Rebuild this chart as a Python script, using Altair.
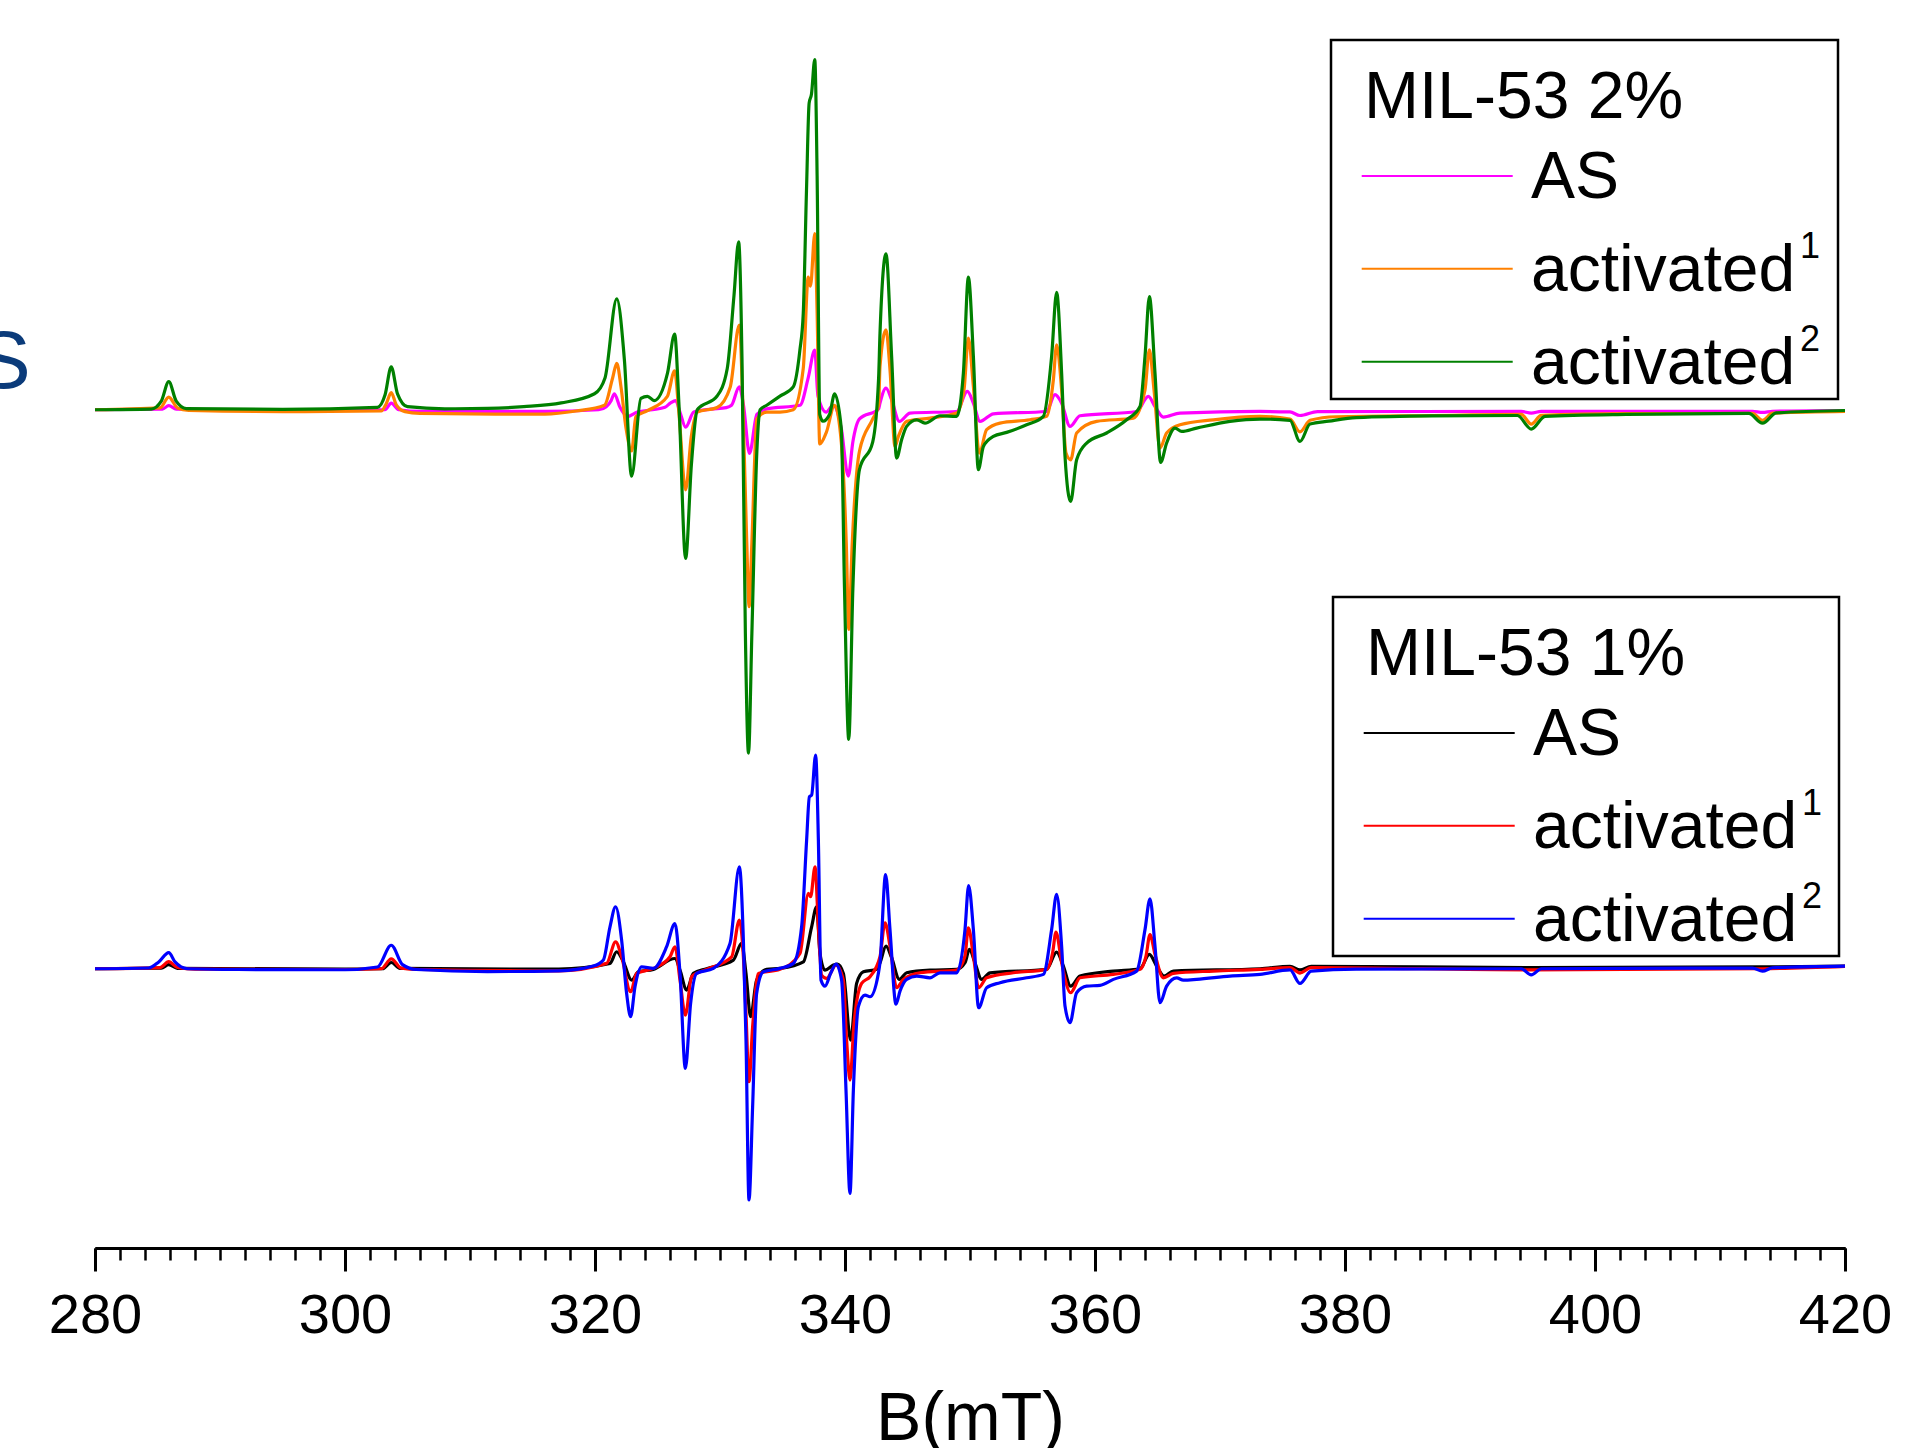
import altair as alt
import pandas as pd

FONT = "Liberation Sans"

# ---------------- data: (B in mT, derivative intensity in a.u.) ----------------
# MIL-53 2 %
MIL2_AS = [
    (280.0, 0), (285.4, 0.5), (285.9, 3.4), (286.5, 0.5), (295.0, -0.5), (303.2, 0), (303.7, 5.4),
    (304.3, 0), (306.0, -1.4), (316.0, -1.4), (320.3, 0), (320.9, 2.5), (321.29, 7.5), (321.55, 13.1),
    (322.0, 2), (322.6, -5.6), (323.39, -1.9), (324.6, 0), (325.6, 2), (326.05, 5.6), (326.45, 7.5),
    (326.8, -2), (327.25, -14.2), (327.9, -1.9), (329.3, 0.5), (330.5, 1.8), (330.92, 3.7),
    (331.54, 18.7), (331.88, 3.7), (332.36, -35.6), (332.95, -3.7), (333.74, 0.7), (336.4, 3.7),
    (337.06, 26.2), (337.58, 48.7), (337.84, 11.2), (338.5, -1.9), (339.04, 3.7), (339.70, -15),
    (340.26, -54.3), (340.63, -26.2), (341.16, -7.5), (342.69, 0.7), (342.8, 5.4), (343.28, 17.7),
    (343.73, 8.2), (344.35, -9.5), (345.2, -2.7), (348.93, -1.4), (349.79, 15), (350.27, 5.4),
    (350.8, -9.5), (351.87, -3.3), (356.13, -1.4), (356.8, 12.3), (357.33, 5.4), (358.0, -13.6),
    (358.8, -4.9), (363.33, -1.4), (364.27, 10.9), (364.8, 2.7), (365.47, -6), (366.8, -2.7),
    (373.2, -1.4), (375.6, -1.8), (376.4, -4.7), (377.8, -1.5), (394.1, -1.4), (394.9, -2.7),
    (395.7, -1.4), (412.6, -1.3), (413.4, -2.2), (414.2, -1.2), (420.0, -0.6),
]
MIL2_ACT1 = [
    (280.0, 0), (285.2, 1.5), (285.9, 10.4), (286.6, 1.5), (287.5, -0.5), (295.0, -1.5), (302.9, -1),
    (303.3, 5), (303.7, 14), (304.1, 4), (304.8, -1.5), (306.0, -3), (312.0, -3.5), (316.0, -3.5),
    (318.5, -1), (320.76, 3.7), (321.41, 26), (321.74, 38), (322.08, 18.7), (322.48, -15),
    (322.93, -33.7), (323.27, -5.6), (324.2, -0.7), (325.79, 11), (326.37, 31.8), (326.72, -3.7),
    (327.25, -65.5), (327.7, -22), (328.18, -1.9), (329.77, 1.9), (330.82, 18.7), (331.54, 69.2),
    (331.83, 3.7), (332.14, -108.5), (332.33, -161), (332.55, -108.5), (332.95, -7.5),
    (333.74, -1.9), (334.80, -1.9), (335.86, 0), (336.66, 33.7), (337.06, 108.5), (337.24, 101),
    (337.58, 144), (337.77, 78.6), (337.98, -28), (338.5, -18.7), (339.17, 3.7), (339.70, -26.2),
    (340.1, -108.5), (340.30, -179.6), (340.58, -108.5), (341.16, -33.7), (342.22, -7.5),
    (342.69, 3.7), (342.8, 35.4), (343.28, 65.4), (343.6, 32.7), (344.0, -30), (344.27, -21.8),
    (344.93, -9.5), (346.8, -6.8), (348.93, -2.7), (349.52, 16.3), (349.87, 58.6), (350.27, 19),
    (350.75, -35.4), (351.33, -16.3), (352.4, -10.9), (354.8, -8.2), (356.13, -5.4), (356.67, 24.5),
    (356.93, 53.1), (357.33, 16.3), (357.68, -35.4), (358.05, -40.9), (358.53, -19), (360.13, -9.5),
    (363.07, -6.8), (364.0, 16.3), (364.35, 49), (364.72, 16.3), (365.2, -31.3), (365.73, -19),
    (366.8, -12.3), (369.47, -8.2), (373.2, -5.4), (375.6, -7.6), (376.4, -18), (377.2, -8.6),
    (379.3, -5.7), (387.0, -4.7), (394.1, -3.8), (394.9, -11.7), (395.7, -4.5), (402.5, -3.2),
    (412.6, -3), (413.4, -8.6), (414.2, -2.8), (420.0, -1.3),
]
MIL2_ACT2 = [
    (280.0, 0), (284.5, 0.5), (285.3, 7), (285.9, 23), (286.5, 7), (287.3, 1), (295.0, 0.3),
    (302.6, 2), (303.2, 12), (303.7, 35), (304.2, 13), (305.0, 2.5), (308.0, 0.8), (311.4, 1.1),
    (314.3, 2.5), (317.3, 5.6), (319.96, 13.1), (320.8, 26), (321.74, 90.6), (322.35, 41),
    (322.93, -54.3), (323.67, 9.4), (324.2, 11), (324.73, 7.5), (325.8, 30), (326.37, 61.8),
    (326.72, 3.7), (327.25, -121.6), (327.71, -45), (328.18, 0), (329.77, 11.2), (330.58, 33.7),
    (331.12, 93.6), (331.49, 137.3), (331.76, 41), (332.03, -183), (332.28, -280.7), (332.55, -183),
    (332.95, -33.7), (333.21, 0), (333.74, 3.7), (334.80, 11.2), (335.86, 18.7), (336.39, 48.7),
    (336.66, 78.6), (336.92, 179.6), (337.13, 250.7), (337.32, 258.2), (337.58, 286.3),
    (337.77, 190.9), (337.98, -3.7), (338.24, -9.4), (338.77, -3.7), (339.17, 13.1), (339.70, -15),
    (339.96, -146), (340.30, -269.5), (340.63, -146), (341.16, -48.7), (342.22, -26.2),
    (342.69, 26.2), (342.8, 62.7), (343.28, 127.5), (343.73, 43.6), (344.13, -39.5), (344.53, -24.5),
    (344.93, -13.6), (345.73, -8.2), (346.4, -10.9), (347.6, -4.9), (348.93, -5.4), (349.47, 30),
    (349.87, 108.4), (350.27, 43.6), (350.67, -49), (351.07, -30), (351.87, -21.8), (352.93, -18.5),
    (354.53, -12.3), (355.87, -5.4), (356.53, 43.6), (356.93, 95.9), (357.33, 30), (357.6, -38),
    (358.05, -75), (358.53, -40.9), (359.33, -27.2), (360.93, -19), (362.53, -8.2), (363.6, 2.7),
    (364.0, 43.6), (364.35, 92.6), (364.8, 30), (365.25, -43), (365.73, -27.2), (366.4, -15),
    (366.93, -17.7), (368.13, -15), (370.8, -9.5), (373.2, -7.6), (375.6, -8.6), (376.4, -25.9),
    (377.2, -11.7), (378.7, -9.3), (380.9, -6.4), (387.0, -5), (393.8, -4.7), (394.9, -15.8),
    (396.0, -5.4), (402.5, -3.8), (412.3, -3), (413.4, -11), (414.5, -2.6), (420.0, -0.6),
]
# MIL-53 1 %
MIL1_AS = [
    (280.0, 0), (285.3, 0.5), (285.9, 3.4), (286.6, 0.3), (300.0, -0.3), (303.0, 0), (303.7, 5.1),
    (304.4, 0.3), (317.1, -0.3), (321.2, 4.4), (321.73, 13.9), (322.27, 5.7), (322.93, -9.3),
    (323.47, -2.5), (324.67, -0.5), (326.4, 8.4), (326.8, -1.1), (327.33, -17.4), (327.87, -3.8),
    (328.93, 0), (331.07, 7.1), (331.73, 20.7), (332.08, -3.8), (332.45, -39.2), (332.93, -9.3),
    (333.73, -0.5), (334.8, 0.3), (336.67, 5.7), (337.33, 34.3), (337.73, 50.7), (338.0, 12.5),
    (338.4, -1.1), (339.07, 3), (339.39, 3.8), (339.87, -3.8), (340.45, -58.3), (340.93, -12),
    (341.47, -2.5), (342.53, -0.5), (342.8, 4.9), (343.28, 18.5), (343.73, 9), (344.35, -8.7),
    (344.93, -3.3), (346.8, -1.1), (348.93, -0.5), (349.6, 4.9), (349.95, 15.8), (350.4, 4.9),
    (350.93, -8.7), (351.6, -3.3), (356.13, -0.5), (356.93, 13.6), (357.47, 2.2), (358.05, -14.2),
    (358.8, -6), (361.47, -1.9), (363.6, 0), (364.35, 11.7), (364.93, 2.2), (365.52, -6),
    (366.27, -1.9), (373.2, 0), (375.6, 2), (376.4, -1), (377.3, 2), (394.9, 1), (413.4, 1.5),
    (420.0, 2.2),
]
MIL1_ACT1 = [
    (280.0, 0), (285.2, 1), (285.9, 5.8), (286.6, 1), (288.0, -0.3), (300.0, -0.6), (302.9, 0),
    (303.7, 8), (304.5, 0.5), (306.0, -0.6), (317.1, -1.7), (320.93, 4.4), (321.65, 22),
    (322.13, 9.8), (322.85, -18.8), (323.33, -3.8), (324.67, 0.3), (326.0, 9.8), (326.4, 18),
    (326.8, -9.3), (327.23, -37.9), (327.73, -6.5), (328.93, -0.5), (330.93, 9.8), (331.55, 39.8),
    (331.87, 9.8), (332.08, -36.5), (332.32, -92.4), (332.61, -47.4), (333.07, -3.8), (334.8, -0.5),
    (336.4, 12.5), (337.07, 61.6), (337.25, 58.9), (337.6, 83.4), (337.87, 34.3), (338.13, -5.2),
    (338.53, -7.9), (339.28, 3), (339.87, -9.3), (340.13, -58.3), (340.4, -91), (340.72, -44.7),
    (341.33, -12), (342.0, -6.5), (342.8, 9.8), (343.2, 37.6), (343.6, 18.5), (344.13, -15.5),
    (344.67, -8.7), (346.0, -3.3), (348.93, -1.1), (349.6, 10.4), (349.87, 33.5), (350.27, 10.4),
    (350.69, -15.5), (351.33, -7.4), (353.47, -3.3), (356.13, -0.5), (356.61, 13.1), (356.88, 30),
    (357.33, 4.9), (358.05, -19.6), (358.8, -7.4), (361.47, -4.6), (363.6, -0.5), (364.08, 10.4),
    (364.4, 28), (364.8, 11.7), (365.47, -7.4), (366.27, -3.8), (369.47, -1.9), (373.2, -0.5),
    (375.6, 1), (376.4, -3.5), (377.3, 1), (394.9, -0.9), (413.4, 0), (420.0, 2),
]
MIL1_ACT2 = [
    (280.0, 0), (284.3, 0.6), (285.1, 5.6), (285.9, 13.2), (286.4, 5.6), (287.4, 0), (291.4, -0.6),
    (300.0, -0.8), (302.6, 1.4), (303.7, 19.2), (304.6, 3.4), (305.7, -0.6), (311.4, -2.3),
    (317.1, -1.7), (319.87, 2.2), (320.67, 7.1), (321.2, 34.3), (321.65, 50.7), (322.13, 23.4),
    (322.53, -20.2), (322.85, -39.2), (323.2, -14.7), (323.73, 1.6), (324.67, 0.3), (325.73, 18),
    (326.4, 37), (326.8, -3.8), (327.23, -81.5), (327.65, -28.3), (328.13, -3.8), (329.47, 0.3),
    (330.8, 20.7), (331.55, 83.4), (331.87, 23.4), (332.08, -58.3), (332.32, -189), (332.61, -112.8),
    (332.93, -20.2), (333.47, -2.5), (334.8, 0.3), (335.87, 4.4), (336.53, 34.3), (336.93, 105.2),
    (337.15, 140.6), (337.33, 142), (337.65, 174.7), (337.87, 105.2), (338.08, -9.3), (338.4, -14.2),
    (338.85, -3.8), (339.28, 3.8), (339.73, -9.3), (340.08, -99.2), (340.4, -183.7), (340.67, -99.2),
    (341.07, -31), (341.6, -21.5), (342.0, -22.9), (342.67, -3.8), (342.8, 5), (343.25, 77),
    (343.6, 32), (344.08, -29), (344.4, -18.3), (344.93, -8.7), (345.73, -6), (346.8, -7.4),
    (347.6, -3.3), (348.93, -3.3), (349.6, 32), (349.89, 68), (350.27, 32), (350.69, -31.9),
    (351.33, -15.5), (352.4, -11.4), (354.53, -7.4), (355.87, -4.6), (356.53, 32), (356.93, 60.8),
    (357.33, 18.5), (357.6, -30.5), (358.0, -44.1), (358.53, -19.6), (359.33, -14.2), (360.4, -13.6),
    (361.47, -8.7), (363.33, -1.9), (364.0, 32), (364.4, 57.2), (364.8, 18.5), (365.2, -27.8),
    (365.73, -14.2), (366.53, -7.4), (367.07, -9.3), (368.13, -8.7), (370.8, -6), (373.2, -4.6),
    (375.6, -1), (376.4, -12), (377.3, -2), (380.9, -0.3), (394.1, 0), (394.9, -5), (395.7, 0),
    (412.6, 0.5), (413.4, -2), (414.2, 0.8), (420.0, 2.2),
]

GROUP_TITLES = ["MIL-53 2%", "MIL-53 1%"]
SERIES_LABELS = ["AS", "activated", "activated"]
SERIES_SUPERSCRIPTS = ["", "1", "2"]
GROUP_OFFSETS = [457.0, 0.0]          # vertical stacking of the two groups (a.u.)
GROUP_SERIES = [[MIL2_AS, MIL2_ACT1, MIL2_ACT2], [MIL1_AS, MIL1_ACT1, MIL1_ACT2]]
GROUP_COLORS = [["#FF00FF", "#FF8000", "#008000"], ["#000000", "#FF0000", "#0000FF"]]

X_TICKS = list(range(280, 421, 20))
X_MINOR = list(range(280, 421, 2))

# ---------------- chart ----------------
W, H = 1750, 1248
x_scale = alt.Scale(domain=[280, 420], nice=False, zero=False)
y_scale = alt.Scale(domain=[-228.3, 792], nice=False, zero=False)

major_axis = alt.Axis(
    orient="bottom", values=X_TICKS, format="d", grid=False,
    domainColor="black", domainWidth=3, tickColor="black", tickWidth=3, tickSize=23,
    labelFont=FONT, labelFontSize=56, labelColor="black", labelPadding=61,
    labelBaseline="alphabetic", labelFlush=False, labelOverlap=False,
    title="B(mT)", titleFont=FONT, titleFontSize=68, titleFontWeight="normal",
    titleColor="black", titleY=191, titleBaseline="alphabetic",
)
minor_axis = alt.Axis(
    orient="bottom", values=X_MINOR, grid=False, labels=False, title=None,
    domainColor="black", domainWidth=3, tickColor="black", tickWidth=2.5, tickSize=12,
)

layers = []
for g, series in enumerate(GROUP_SERIES):
    for s, pts in enumerate(series):
        df = pd.DataFrame(pts, columns=["B", "I"])
        df["y"] = df["I"] + GROUP_OFFSETS[g]
        if g == 0 and s == 0:
            ax = major_axis
        elif g == 0 and s == 1:
            ax = minor_axis
        else:
            ax = None
        layers.append(
            alt.Chart(df).mark_line(
                color=GROUP_COLORS[g][s], strokeWidth=3.2, interpolate="monotone"
            ).encode(
                x=alt.X("B:Q", scale=x_scale, axis=ax),
                y=alt.Y("y:Q", scale=y_scale, axis=None),
            )
        )

ONE = pd.DataFrame({"k": [0]})


def text_layer(txt, x, y, size, color="black"):
    return alt.Chart(ONE).mark_text(
        text=txt, align="left", baseline="alphabetic", font=FONT, fontSize=size, color=color
    ).encode(x=alt.value(x), y=alt.value(y))


# legend boxes (plot-area pixel layout)
BOXES = [(1236, 40, 1743, 399), (1238, 597, 1744, 956)]
for g, (x0, y0, x1, y1) in enumerate(BOXES):
    layers.append(
        alt.Chart(ONE).mark_rect(fill="white", stroke="black", strokeWidth=2.5).encode(
            x=alt.value(x0), x2=alt.value(x1), y=alt.value(y0), y2=alt.value(y1)
        )
    )
    layers.append(text_layer(GROUP_TITLES[g], x0 + 33, y0 + 77.5, 66))
    for s in range(3):
        ly = y0 + 136 + 92.85 * s
        layers.append(
            alt.Chart(ONE).mark_rule(color=GROUP_COLORS[g][s], strokeWidth=2).encode(
                x=alt.value(x0 + 30.7), x2=alt.value(x0 + 181.7), y=alt.value(ly)
            )
        )
        layers.append(text_layer(SERIES_LABELS[s], x0 + 200, ly + 22.3, 66))
        if SERIES_SUPERSCRIPTS[s]:
            layers.append(text_layer(SERIES_SUPERSCRIPTS[s], x0 + 469, ly + 22.3 - 33, 36))

# clipped fragment of a letter at the left edge of the reference
layers.append(text_layer("S", -119, 388, 82, color="#0b3b7a"))

chart = (
    alt.layer(*layers)
    .resolve_axis(x="independent")
    .properties(
        width=W, height=H,
        padding={"left": 95, "top": 0, "right": 73, "bottom": 200},
        autosize=alt.AutoSizeParams(type="none"),
        background="white",
    )
    .configure_view(stroke=None)
)

chart.save("out.html", embed_options={"renderer": "svg", "actions": False})
